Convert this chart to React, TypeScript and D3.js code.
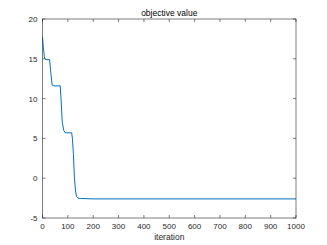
import React from 'react';
import * as d3 from 'd3';

// iteration / objective value
const iterations = [0, 3, 8, 12, 28, 32, 38, 45, 70, 73, 78, 84, 90, 115, 118, 122, 126, 130, 134, 140, 150, 200, 1000];
const values = [17.7, 16.5, 15.1, 14.9, 14.9, 13.5, 11.7, 11.6, 11.6, 10, 7, 6.0, 5.7, 5.7, 5.0, 3.0, 0, -1.5, -2.3, -2.5, -2.55, -2.6, -2.6];
const xTicks = [0, 100, 200, 300, 400, 500, 600, 700, 800, 900, 1000];
const yTicks = [-5, 0, 5, 10, 15, 20];

const W = 327, H = 245;
const m = { left: 42.5, right: 31, top: 19, bottom: 27 };

export default function App() {
  const x = d3.scaleLinear().domain([0, 1000]).range([m.left, W - m.right]);
  const y = d3.scaleLinear().domain([-5, 20]).range([H - m.bottom, m.top]);
  const line = d3.line<number>()
    .x((d, i) => x(iterations[i]))
    .y(d => y(d));
  const axisColor = '#262626';
  const font = 'Liberation Sans, Arial, sans-serif';
  const tl = 3;

  return (
    <svg width={W} height={H} style={{ position: 'absolute', left: 0, top: 0, background: '#fff' }}>
      <rect x={x(0)} y={y(20)} width={x(1000) - x(0)} height={y(-5) - y(20)} fill="#fff" />
      <path d={line(values) || ''} fill="none" stroke="#0072BD" strokeWidth={1} />
      <g stroke={axisColor} strokeWidth={0.6}>
        {xTicks.map(t => (
          <g key={'x' + t}>
            <line x1={x(t)} x2={x(t)} y1={y(-5)} y2={y(-5) - tl} />
            <line x1={x(t)} x2={x(t)} y1={y(20)} y2={y(20) + tl} />
          </g>
        ))}
        {yTicks.map(t => (
          <g key={'y' + t}>
            <line x1={x(0)} x2={x(0) + tl} y1={y(t)} y2={y(t)} />
            <line x1={x(1000)} x2={x(1000) - tl} y1={y(t)} y2={y(t)} />
          </g>
        ))}
        <rect x={x(0)} y={y(20)} width={x(1000) - x(0)} height={y(-5) - y(20)} fill="none" />
      </g>
      <g fontFamily={font} fontSize={8} fill={axisColor}>
        {xTicks.map(t => (
          <text key={'xl' + t} x={x(t)} y={y(-5) + 11} textAnchor="middle">{t}</text>
        ))}
        {yTicks.map(t => (
          <text key={'yl' + t} x={x(0) - 5} y={y(t) + 3} textAnchor="end">{t}</text>
        ))}
        <text x={(x(0) + x(1000)) / 2} y={240} textAnchor="middle" fontSize={8.5}>iteration</text>
        <text x={(x(0) + x(1000)) / 2} y={16} textAnchor="middle" fontSize={8.5} fill="#000">objective value</text>
      </g>
    </svg>
  );
}
